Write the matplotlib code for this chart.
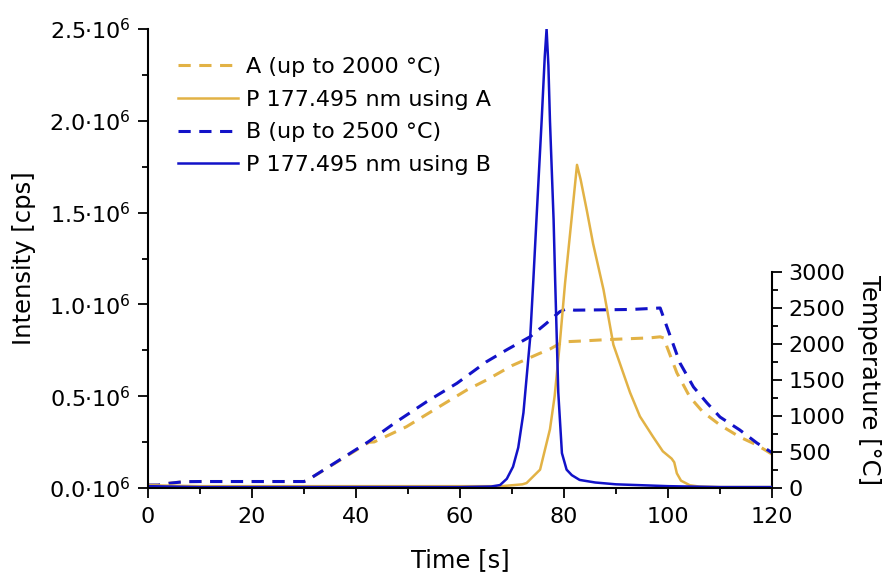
import matplotlib
matplotlib.use("Agg")
import matplotlib.pyplot as plt
from matplotlib.ticker import MultipleLocator, FixedLocator

plt.rcParams['font.family'] = ['DejaVu Sans']
plt.rcParams['mathtext.fontset'] = 'dejavusans'

# ---- data ----
# Temperature programme A (up to 2000 °C)
tA_temp = [0, 2, 4, 7, 10, 20, 30, 30.5, 42.5, 43.5, 49.7, 55.5, 61.3, 65.1, 70, 75, 77.3,
           79.8, 83, 88, 93, 96.5, 98.5, 99.3, 99.8, 101.7, 104.2, 106.7, 110, 113.8, 117.1, 120]
TA = [40, 40, 65, 88, 90, 90, 90, 101, 635, 640, 851, 1107, 1361, 1500, 1700, 1860, 1930,
      2030, 2040, 2060, 2075, 2085, 2100, 2080, 1960, 1600, 1264, 1056, 875, 708, 597, 470]

# Temperature programme B (up to 2500 °C)
tB_temp = [0, 2, 4, 7, 10, 20, 30, 30.5, 42.4, 47.8, 53.6, 59.4, 65.1, 69, 73.5, 76.5, 79.2,
           80.5, 82, 88, 93, 98.5, 99.8, 102.3, 104.9, 107.5, 110, 113.8, 117.1, 120]
TB = [40, 40, 65, 88, 90, 90, 90, 101, 643, 921, 1199, 1454, 1754, 1920, 2102, 2280, 2449,
      2490, 2470, 2475, 2480, 2500, 2236, 1736, 1403, 1181, 986, 806, 625, 490]

# P 177.495 nm intensity using A (units of 1e6 cps)
tA_int = [0, 10, 20, 30, 40, 50, 60, 68, 72, 72.8, 75.4, 77.3, 78.2, 79.2, 80.2, 81.4, 82.5,
          83.2, 84.4, 85.6, 87.6, 89.5, 92.7, 94.6, 97.1, 99, 100.7, 101.2, 101.7, 102.5, 104.2,
          106, 110, 120]
IA = [0.015, 0.01, 0.01, 0.01, 0.01, 0.01, 0.01, 0.01, 0.02, 0.027, 0.1, 0.32, 0.5, 0.79,
      1.115, 1.45, 1.76, 1.68, 1.51, 1.33, 1.08, 0.78, 0.52, 0.39, 0.28, 0.20, 0.16, 0.14,
      0.08, 0.04, 0.015, 0.008, 0.005, 0.005]

# P 177.495 nm intensity using B (units of 1e6 cps)
tB_int = [0, 10, 20, 30, 40, 50, 60, 66, 67.7, 69, 70.2, 71.2, 72.2, 73.5, 74.1, 74.7, 75.7,
          76.3, 76.65, 77.0, 77.3, 78.0, 78.3, 78.9, 79.6, 80.5, 81.5, 83, 86, 90, 100, 110, 120]
IB = [0.01, 0.005, 0.005, 0.005, 0.005, 0.005, 0.005, 0.008, 0.016, 0.05, 0.116, 0.22, 0.41,
      0.82, 1.13, 1.46, 2.0, 2.35, 2.5, 2.3, 2.0, 1.46, 1.13, 0.52, 0.19, 0.10, 0.07, 0.044,
      0.03, 0.02, 0.01, 0.005, 0.005]

labels = ["A (up to 2000 °C)", "P 177.495 nm using A", "B (up to 2500 °C)", "P 177.495 nm using B"]
x_ticks = [0, 20, 40, 60, 80, 100, 120]
y_ticks = [0.0, 0.5, 1.0, 1.5, 2.0, 2.5]
y_ticklabels = ["0.0·10$^{6}$", "0.5·10$^{6}$", "1.0·10$^{6}$", "1.5·10$^{6}$",
                "2.0·10$^{6}$", "2.5·10$^{6}$"]
t_ticks = [0, 500, 1000, 1500, 2000, 2500, 3000]

GOLD = '#E2B245'
BLUE = '#1212C8'

fig = plt.figure(figsize=(8.85, 5.76), dpi=100)
ax = fig.add_axes([148/885, 1-488/576, (772-148)/885, (488-29)/576])
ax2 = ax.twinx()

fs = 16
lfs = 17.5
lw_d = 2.2
lw_s = 1.8
dash = (4.0, 2.8)

lA_t, = ax2.plot(tA_temp, TA, color=GOLD, lw=lw_d, dashes=dash)
lB_t, = ax2.plot(tB_temp, TB, color=BLUE, lw=lw_d, dashes=dash)
lA_i, = ax.plot(tA_int, IA, color=GOLD, lw=lw_s)
lB_i, = ax.plot(tB_int, IB, color=BLUE, lw=lw_s)
ax.set_zorder(ax2.get_zorder() + 1)
ax.patch.set_visible(False)

ax.set_xlim(0, 120)
ax.set_ylim(0, 2.5)
ax2.set_ylim(0, 3000 * 459 / 216)

for a in (ax, ax2):
    a.spines['top'].set_visible(False)
    for s in a.spines.values():
        s.set_linewidth(1.5)
ax.spines['right'].set_visible(False)
ax2.spines['left'].set_visible(False)
ax2.spines['bottom'].set_visible(False)
ax2.spines['right'].set_bounds(0, 3000)

ax.set_xticks(x_ticks)
ax.xaxis.set_minor_locator(MultipleLocator(10))
ax.set_yticks(y_ticks)
ax.set_yticklabels(y_ticklabels)
ax.yaxis.set_minor_locator(MultipleLocator(0.25))
ax2.set_yticks(t_ticks)
ax2.yaxis.set_minor_locator(FixedLocator(list(range(0, 3001, 250))))

for a in (ax, ax2):
    a.tick_params(which='major', direction='out', length=7, width=1.3, labelsize=fs, pad=5)
    a.tick_params(which='minor', direction='out', length=4, width=1.3)
ax.tick_params(axis='x', pad=7)

ax.set_xlabel("Time [s]", fontsize=lfs)
ax.xaxis.set_label_coords(0.5, -0.13)
ax.set_ylabel("Intensity [cps]", fontsize=lfs)
ax.yaxis.set_label_coords(-0.18, 0.5)
ax2.set_ylabel("Temperature [°C]", fontsize=lfs, rotation=270, va='center')
ax2.yaxis.set_label_coords(1.155, 0.235)

leg = ax.legend([lA_t, lA_i, lB_t, lB_i], labels, loc='upper left',
                bbox_to_anchor=(0.048, 0.939), frameon=False, fontsize=fs,
                handlelength=2.7, handletextpad=0.36, labelspacing=0.57,
                borderaxespad=0, borderpad=0)

fig.savefig("out.png", dpi=100)
